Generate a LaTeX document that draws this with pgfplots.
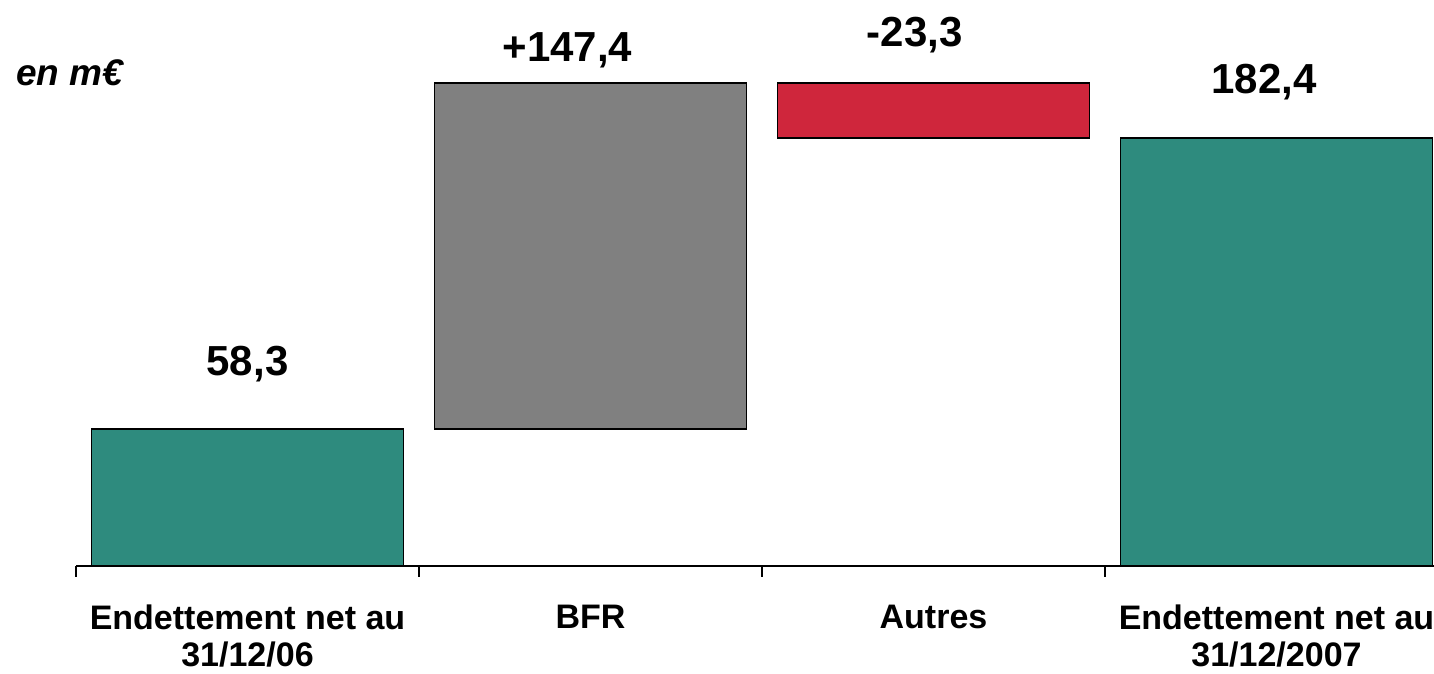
\documentclass[border=0pt]{standalone}
\usepackage{fontspec}
\setmainfont{Liberation Sans}
\usepackage{pgfplots}
\pgfplotsset{compat=1.18}
\definecolor{tealb}{RGB}{46,139,126}
\definecolor{grayb}{RGB}{128,128,128}
\definecolor{redb}{RGB}{207,38,60}
\begin{document}
\begin{tikzpicture}[x=0.5pt,y=0.5pt]
\begin{axis}[
  at={(38pt,54.15pt)}, anchor=south west,
  width=686pt, height=282.85pt, scale only axis,
  xmin=-0.5, xmax=3.5, ymin=0, ymax=241.2,
  ybar stacked, bar width=0.91,
  axis x line=bottom, axis y line=none,
  axis line style={-, line width=1pt, black},
  xtick={0,1,2,3},
  xticklabels={{Endettement net au\\31/12/06},{BFR},{Autres},{Endettement net au\\31/12/2007}},
  major tick length=0pt,
  minor xtick={-0.5,0.5,1.5,2.5,3.5}, minor tick length=5.5pt,
  tick style={black, line width=0.8pt},
  xtick align=outside,
  xticklabel style={font=\fontsize{17}{18.7}\selectfont\bfseries, align=center, anchor=north, inner sep=0pt, yshift=-19.4pt},
  clip=false,
]
\addplot[draw=none, fill=none] coordinates {(0,0) (1,58.3) (2,182.4) (3,0)};
\addplot[fill=tealb, draw=black, line width=0.8pt] coordinates {(0,58.3) (1,0) (2,0) (3,182.4)};
\addplot[fill=grayb, draw=black, line width=0.8pt] coordinates {(0,0) (1,147.4) (2,0) (3,0)};
\addplot[fill=redb, draw=black, line width=0.8pt] coordinates {(0,0) (1,0) (2,23.3) (3,0)};
\node[anchor=base, inner sep=0pt, font=\fontsize{21}{25}\selectfont\bfseries] at (axis cs:0,81.3) {58,3};
\node[anchor=base, inner sep=0pt, font=\fontsize{21}{25}\selectfont\bfseries] at (axis cs:0.933,214.9) {+147,4};
\node[anchor=base, inner sep=0pt, font=\fontsize{21}{25}\selectfont\bfseries] at (axis cs:1.945,221.3) {-23,3};
\node[anchor=base, inner sep=0pt, font=\fontsize{21}{25}\selectfont\bfseries] at (axis cs:2.964,201.4) {182,4};
\end{axis}
\node[anchor=base west, inner sep=0pt, font=\fontsize{18.5}{22}\selectfont\bfseries\itshape] at (16,588) {en m€};
\pgfresetboundingbox
\path[use as bounding box] (0,0) rectangle (1434,674);
\end{tikzpicture}
\end{document}
